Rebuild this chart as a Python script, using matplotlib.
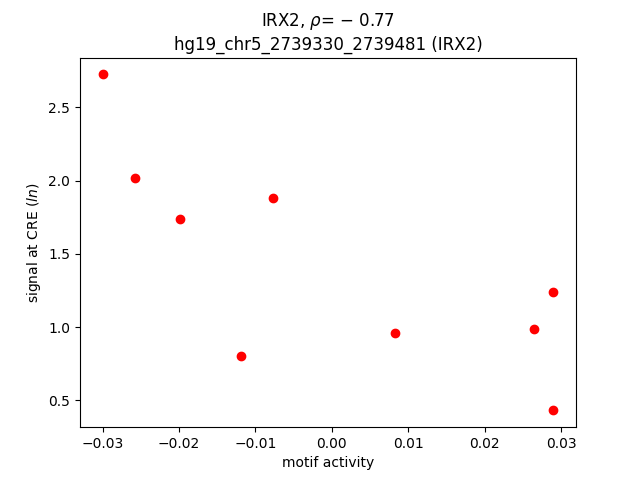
import matplotlib
matplotlib.use("Agg")
import matplotlib.pyplot as plt

motif_activity = [-0.0300, -0.0257, -0.0199, -0.0077, -0.0119, 0.0083, 0.0265, 0.0290, 0.0290]
signal = [2.725, 2.015, 1.735, 1.879, 0.800, 0.957, 0.985, 1.237, 0.432]

plt.figure(figsize=(6.4, 4.8))
plt.scatter(motif_activity, signal, color='red')
plt.title("IRX2, $\\rho$= $-$ 0.77\nhg19_chr5_2739330_2739481 (IRX2)")
plt.xlabel("motif activity")
plt.ylabel("signal at CRE ($ln$)")
plt.savefig("out.png", dpi=100)
